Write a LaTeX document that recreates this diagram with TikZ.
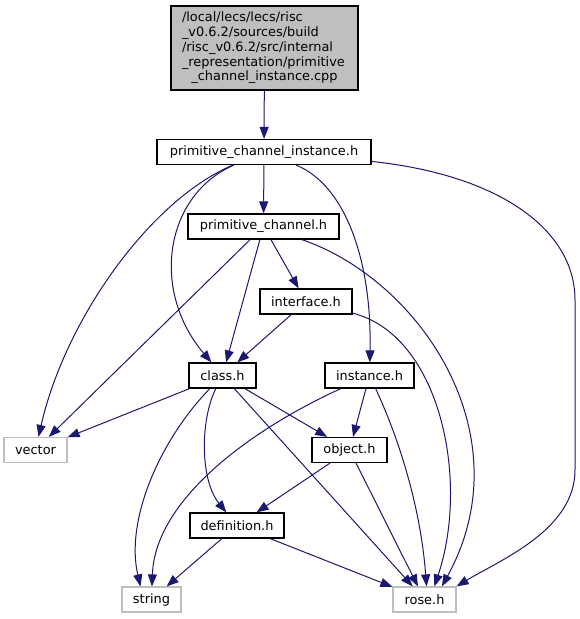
\documentclass[tikz,border=0pt]{standalone}
\usepackage{fontspec}
\setmainfont{DejaVu Sans}
\usetikzlibrary{arrows.meta}

\definecolor{edgeblue}{HTML}{191970}
\definecolor{mainfill}{HTML}{BFBFBF}
\definecolor{sysgray}{HTML}{BFBFBF}
\newcommand{\incfont}{\fontsize{12.9}{14.8}\selectfont}

\tikzstyle{incfile}=[draw=black,line width=1.2pt,rectangle,fill=white,minimum height=25pt,inner sep=0pt,font=\incfont]
\tikzstyle{sysinc}=[incfile,draw=sysgray]
\tikzstyle{mainsrc}=[incfile,fill=mainfill,minimum width=187pt,minimum height=84pt,text width=165pt,align=left]
\tikzstyle{link}=[draw=edgeblue,line width=1pt,-{Triangle[length=12pt,width=9pt,fill=edgeblue]}]

\begin{document}
\begin{tikzpicture}[x=1pt,y=-1pt]
    \useasboundingbox (0,0) rectangle (580,619);
    % the file itself
    \node[mainsrc] (main) at (264.5,48) {/local/lecs/lecs/risc\\\_v0.6.2/sources/build\\/risc\_v0.6.2/src/internal\\\_representation/primitive\\\makebox[165pt]{\_channel\_instance.cpp}};
    % headers of the project
    \foreach \pos/\name/\w/\txt in {{(264,152)/pcih/214/primitive\_channel\_instance.h},
        {(263.5,226.5)/pch/151/primitive\_channel.h}, {(306,301.5)/interfaceh/92/interface.h},
        {(222.5,375.5)/classh/67/class.h}, {(369.5,375.5)/instanceh/89/instance.h},
        {(349.5,450)/objecth/75/object.h}, {(237,525.5)/definitionh/94/definition.h}}
        \node[incfile,minimum width=\w pt] (\name) at \pos {\txt};
    % system headers
    \foreach \pos/\name/\w/\txt in {{(35.5,450)/vector/63/vector},
        {(151.5,599.5)/stringh/59/string}, {(424.5,599.5)/roseh/63/rose.h}}
        \node[sysinc,minimum width=\w pt] (\name) at \pos {\txt};
    % straight includes
    \foreach \source/\dest in {main/pcih, pcih/pch, pch/vector, pch/classh, pch/interfaceh,
        interfaceh/classh, classh/vector, classh/roseh, classh/objecth, instanceh/objecth,
        objecth/definitionh, objecth/roseh, definitionh/stringh, definitionh/roseh}
        \path[link] (\source) -- (\dest);
    % bent includes
    \path[link] (pcih) .. controls (165,195) and (150,290) .. (classh);
    \path[link] (pcih) .. controls (150,200) and (65,320) .. (vector);
    \path[link] (pcih) .. controls (345,185) and (372,260) .. (instanceh);
    \path[link] (pcih.-5) .. controls (500,175) and (575,230) .. (575,300) -- (575,470)
        .. controls (575,530) and (500,560) .. (roseh.north east);
    \path[link] (pch) .. controls (420,280) and (525,435) .. (roseh.37);
    \path[link] (interfaceh) .. controls (440,335) and (470,480) .. (roseh.53);
    \path[link] (classh) .. controls (160,440) and (125,520) .. (stringh.130);
    \path[link] (classh) .. controls (200,420) and (200,480) .. (definitionh);
    \path[link] (instanceh) .. controls (250,430) and (155,500) .. (stringh);
    \path[link] (instanceh) .. controls (395,430) and (420,500) .. (roseh.81);
\end{tikzpicture}
\end{document}
